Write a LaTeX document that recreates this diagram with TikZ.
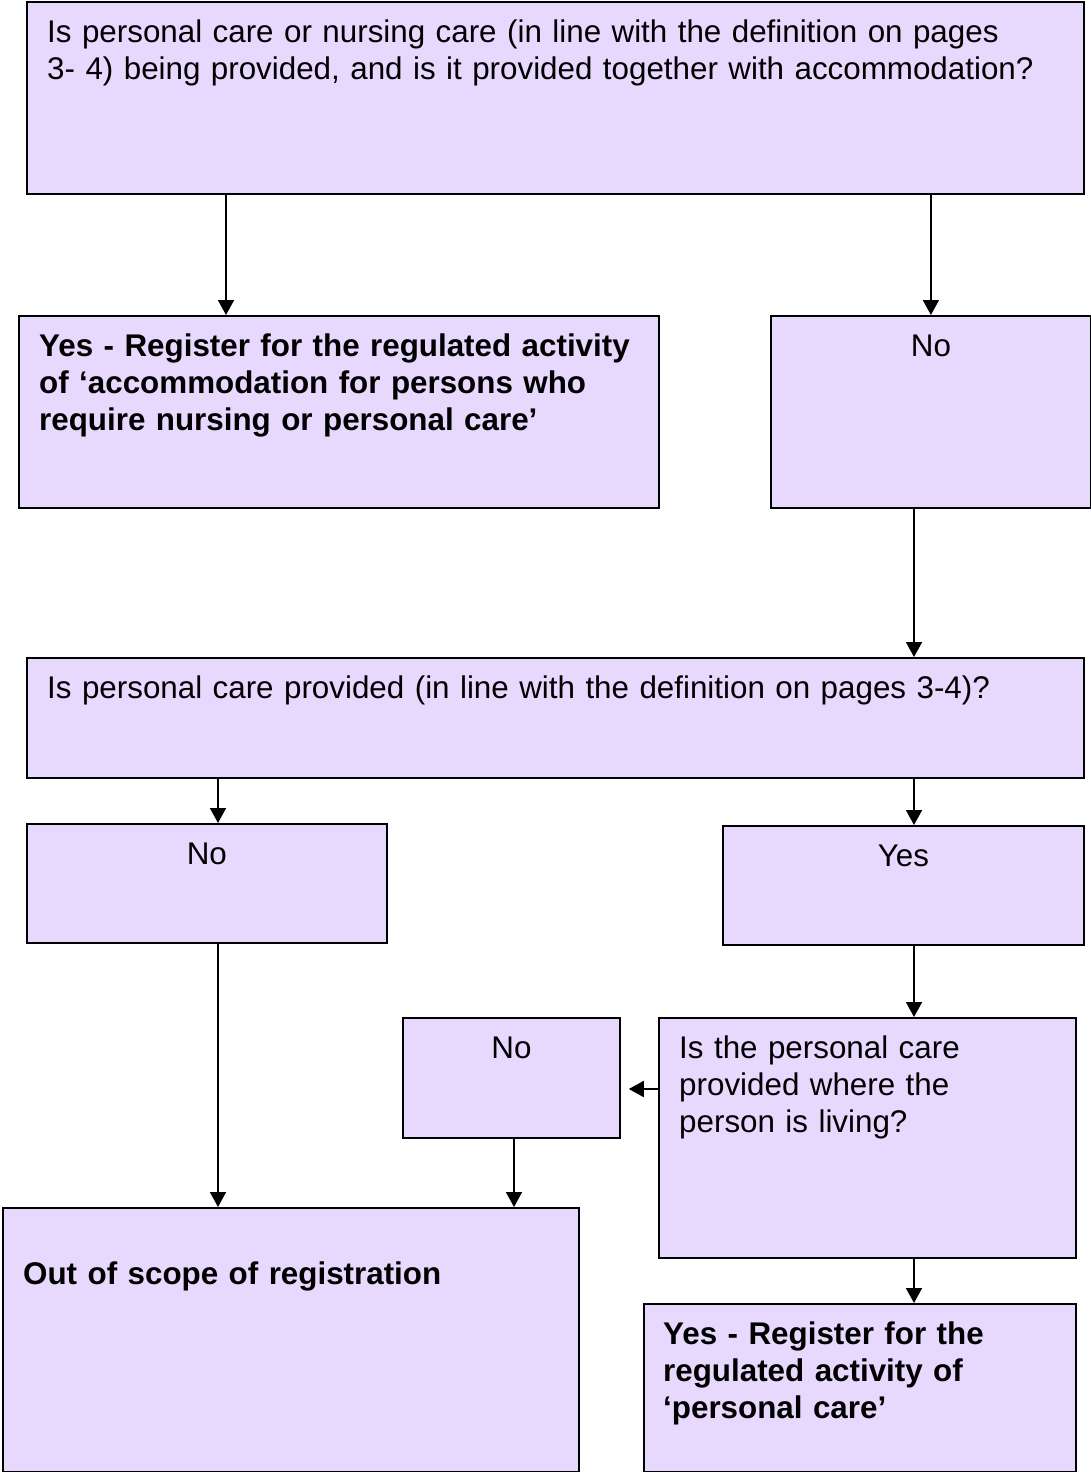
\documentclass[tikz,border=0pt]{standalone}
\usepackage{fontspec}
\setmainfont{Liberation Sans}
\usetikzlibrary{arrows.meta,positioning}
\definecolor{boxfill}{HTML}{E7D8FD}

\begin{document}
\begin{tikzpicture}[x=1pt,y=-1pt,
                box/.style={draw,line width=1.8pt,fill=boxfill,anchor=north west,inner sep=0pt},
                txt/.style={inner sep=0pt,align=left,text width=1040pt,font=\fontsize{31.35}{37}\selectfont},
                word/.style={inner sep=0pt,font=\fontsize{31.35}{37}\selectfont},
                arr/.style={line width=1.8pt,-{Triangle[length=15pt,width=16pt]}}]
                \useasboundingbox (0,0) rectangle (1091,1472);
                % boxes
                \node[box,minimum width=1057pt,minimum height=192pt] (q1) at (26,1) {};
                \node[box,minimum width=640pt,minimum height=192pt] (yes1) at (18,315) {};
                \node[box,minimum width=320pt,minimum height=192pt] (no1) at (770,315) {};
                \node[box,minimum width=1057pt,minimum height=120pt] (q2) at (26,657) {};
                \node[box,minimum width=360pt,minimum height=119pt] (no2) at (26,823) {};
                \node[box,minimum width=361pt,minimum height=119pt] (yes2) at (722,825) {};
                \node[box,minimum width=217pt,minimum height=120pt] (no3) at (402,1017) {};
                \node[box,minimum width=417pt,minimum height=240pt] (q3) at (658,1017) {};
                \node[box,minimum width=576pt,minimum height=264pt] (out) at (2,1207) {};
                \node[box,minimum width=432pt,minimum height=168pt] (yes3) at (643,1303) {};
                % texts
                \node[txt,below right=15pt and 21pt of q1.north west] {\strut Is personal care or nursing care (in line with the definition on pages\\ 3- 4) being provided, and is it provided together with accommodation?};
                \node[txt,below right=15pt and 21pt of yes1.north west] {\bfseries\strut Yes - Register for the regulated activity\\ of ‘accommodation for persons who\\ require nursing or personal care’};
                \node[word,below=15pt of no1.north] {\strut No};
                \node[txt,below right=15pt and 21pt of q2.north west] {\strut Is personal care provided (in line with the definition on pages 3-4)?};
                \node[word,below=15pt of no2.north] {\strut No};
                \node[word,below=15pt of yes2.north] {\strut Yes};
                \node[word,below=15pt of no3.north] {\strut No};
                \node[txt,below right=15pt and 21pt of q3.north west] {\strut Is the personal care\\ provided where the\\ person is living?};
                \node[txt,below right=51pt and 21pt of out.north west] {\bfseries\strut Out of scope of registration};
                \node[txt,below right=15pt and 20pt of yes3.north west] {\bfseries\strut Yes - Register for the\\ regulated activity of\\ ‘personal care’};
                % arrows
                \coordinate (colA) at (226,0);
                \coordinate (colB) at (914,0);
                \coordinate (colC) at (218,0);
                \coordinate (colD) at (514,0);
                \coordinate (rowA) at (0,1089);
                \draw[arr] (q1.south -| colA) -- (yes1.north -| colA);
                \draw[arr] (q1.south -| no1.north) -- (no1.north);
                \draw[arr] (no1.south -| colB) -- (q2.north -| colB);
                \draw[arr] (q2.south -| colC) -- (no2.north -| colC);
                \draw[arr] (q2.south -| colB) -- (yes2.north -| colB);
                \draw[arr] (yes2.south -| colB) -- (q3.north -| colB);
                \draw[arr] (q3.west |- rowA) -- ([xshift=8pt]no3.east |- rowA);
                \draw[arr] (no3.south -| colD) -- (out.north -| colD);
                \draw[arr] (no2.south -| colC) -- (out.north -| colC);
                \draw[arr] (q3.south -| colB) -- (yes3.north -| colB);
\end{tikzpicture}
\end{document}
